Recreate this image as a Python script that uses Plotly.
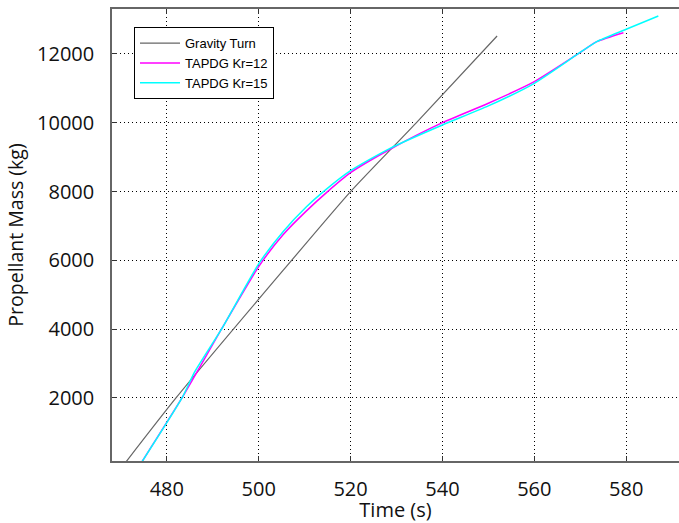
import plotly.graph_objects as go

# Gravity Turn
gravity_t = [470.3, 482.0, 505.4, 520.0, 534.3, 551.9]
gravity_m = [0, 2000, 5721, 8000, 10000, 12523]

# TAPDG Kr=12
kr12_t = [473.9, 483.3, 491.9, 500.0, 505.4, 510.4, 515.0, 520.0, 528.6, 540.0, 550.0, 560.0, 569.5, 573.6, 579.4]
kr12_m = [0, 2000, 4000, 5820, 6760, 7440, 8000, 8550, 9230, 10003, 10567, 11195, 12000, 12358, 12620]

# TAPDG Kr=15
kr15_t = [473.9, 483.3, 486.1, 491.9, 500.0, 505.4, 510.4, 514.1, 520.0, 528.6, 540.0, 550.0, 560.0, 569.5, 573.6, 580.0, 587.0]
kr15_m = [0, 2000, 2765, 4000, 5900, 6850, 7560, 8000, 8608, 9258, 9936, 10490, 11148, 12000, 12358, 12718, 13105]

x_ticks = [480, 500, 520, 540, 560, 580]
y_ticks = [2000, 4000, 6000, 8000, 10000, 12000]

fig = go.Figure()
fig.add_trace(go.Scatter(x=gravity_t, y=gravity_m, mode="lines", name="Gravity Turn",
                         line=dict(color="#666666", width=1.2, shape="spline", smoothing=0.6)))
fig.add_trace(go.Scatter(x=kr12_t, y=kr12_m, mode="lines", name="TAPDG Kr=12",
                         line=dict(color="#FF00FF", width=1.5, shape="spline", smoothing=0.6)))
fig.add_trace(go.Scatter(x=kr15_t, y=kr15_m, mode="lines", name="TAPDG Kr=15",
                         line=dict(color="#00FFFF", width=1.5, shape="spline", smoothing=0.6)))

tick_font = dict(family="Open Sans", size=20, color="#111111")
xtitle_font = dict(family="Open Sans", size=20, color="#111111")
ytitle_font = dict(family="Open Sans", size=19.5, color="#111111")

fig.update_layout(
    width=679, height=523,
    margin=dict(l=112, r=0, t=9, b=62),
    paper_bgcolor="white", plot_bgcolor="white",
    showlegend=True,
    legend=dict(x=0.0388, y=0.960, xanchor="left", yanchor="top",
                bgcolor="white", bordercolor="#000000", borderwidth=1,
                font=dict(family="Liberation Sans", size=13, color="#000000"),
                tracegroupgap=6, traceorder="normal", itemwidth=40),
    xaxis=dict(range=[468.07, 591.5], tickvals=x_ticks, tickformat="d",
               ticks="inside", ticklen=5,
               tickcolor="#333333", showline=True, linecolor="#666666", linewidth=1.5,
               mirror="ticks", showgrid=True, gridcolor="#000000", gridwidth=1,
               griddash="1px,3px", zeroline=False, tickfont=tick_font,
               ticklabelstandoff=9,
               title=dict(text="Time (s)", font=xtitle_font, standoff=6)),
    yaxis=dict(range=[168, 13308], tickvals=y_ticks, tickformat="d",
               ticks="inside", ticklen=5,
               tickcolor="#333333", showline=True, linecolor="#666666", linewidth=1.5,
               mirror=False, showgrid=True, gridcolor="#000000", gridwidth=1,
               griddash="1px,3px", zeroline=False, tickfont=tick_font,
               ticklabelstandoff=12,
               title=dict(text="Propellant Mass (kg)", font=ytitle_font, standoff=8)),
)

fig.write_html("out.html")
